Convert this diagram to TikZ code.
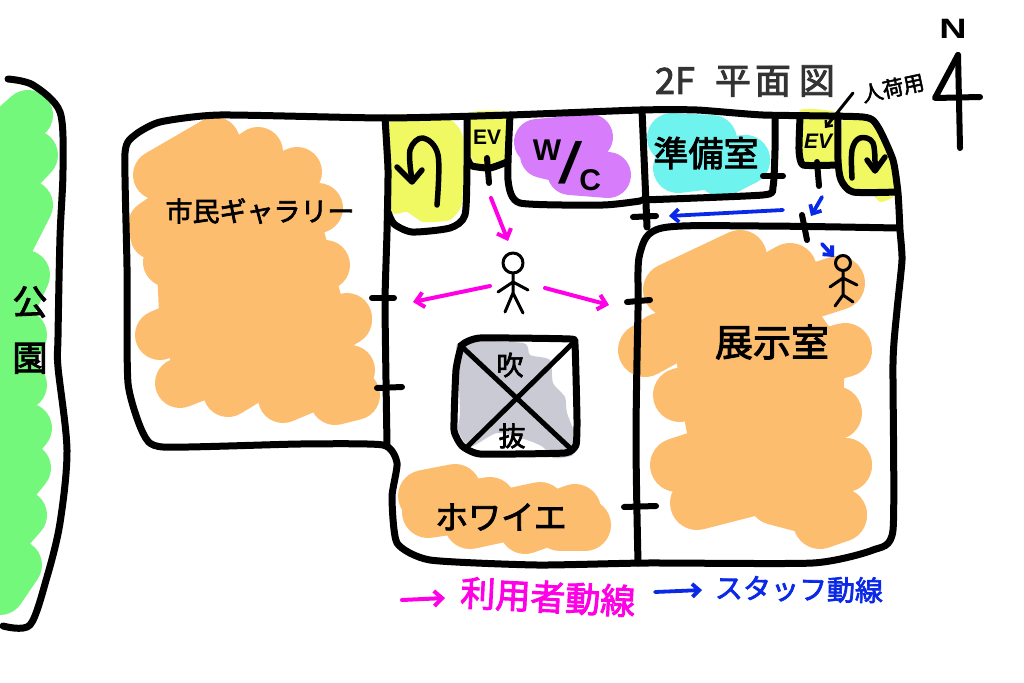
\documentclass[tikz,border=0pt]{standalone}
\usepackage{fontspec}
\usetikzlibrary{arrows.meta}
\setmainfont{Liberation Sans}
\newfontfamily\cjk[FakeBold=2.5]{Noto Sans CJK JP}
\definecolor{orangeP}{HTML}{FDBD6E}
\definecolor{yellowP}{HTML}{F1F962}
\definecolor{purpleP}{HTML}{D77DFB}
\definecolor{cyanP}{HTML}{6EF3EE}
\definecolor{greyP}{HTML}{CACAD4}
\definecolor{greenP}{HTML}{74F87C}
\definecolor{pinkL}{HTML}{FF00E6}
\definecolor{blueL}{HTML}{0A28E8}
\newcommand\fs[1]{\fontsize{#1}{#1}\selectfont}
% brush: colour, stroke width, core polygon, list of strokes
\newcommand\brush[4]{%
  \fill[#1] #3 -- cycle;%
  \foreach \xa/\ya/\xb/\yb in {#4}{\draw[#1,line width=#2pt,line cap=round] (\xa,\ya) -- (\xb,\yb);}}
\tikzset{
  wall/.style={draw=black,line width=7pt,line cap=round,line join=round},
  tick/.style={draw=black,line width=6pt,line cap=round},
  pen/.style={draw=black,line width=5pt,line cap=round,line join=round},
  thinpen/.style={draw=black,line width=3pt,line cap=round,line join=round},
  userflow/.style={draw=pinkL,line width=4pt,line cap=round,-{Straight Barb[length=8pt,width=15pt,line width=4pt]}},
  staffflow/.style={draw=blueL,line width=3.8pt,line cap=round,-{Straight Barb[length=7pt,width=13pt,line width=3.8pt]}},
  lab/.style={inner sep=0pt,font=\cjk},
}
\begin{document}
\begin{tikzpicture}[x=1pt,y=-1pt]
\useasboundingbox (0,0) rectangle (1024,682);
\fill[white] (0,0) rectangle (1024,682);

% --- paint ---
\brush{greenP}{50}{(0,115) -- (28,115) -- (33,155) -- (25,275) -- (22,385) -- (26,468) -- (18,565) -- (0,600)}{0/140/28/115,0/190/33/155,0/260/28/205,0/330/25/275,0/370/22/335,0/400/22/385,0/460/27/428,0/500/26/468,0/540/22/515,0/590/17/565}
\brush{orangeP}{50}{(158,175) -- (215,142) -- (318,208) -- (347,318) -- (355,395) -- (180,383) -- (160,335) -- (155,225)}{158/175/215/142,153/225/258/152,155/235/297/172,168/262/318/208,160/335/325/265,180/383/347/318,228/392/347/320,283/398/350/370,335/400/355/395}
\fill[yellowP] plot[smooth cycle,tension=.3] coordinates {(384,118)(447,118)(463,137)(462,203)(450,220)(423,222)(407,212)(390,210)};
\fill[yellowP] plot[smooth cycle,tension=.25] coordinates {(470,113)(508,113)(508,160)(480,166)(470,155)};
\brush{purpleP}{46}{(537,142) -- (590,137) -- (608,175) -- (570,173)}{537/142/590/137,543/155/585/165,570/172/608/175}
\brush{cyanP}{50}{(672,138) -- (712,140) -- (745,160) -- (680,168)}{672/138/712/140,678/168/745/160,722/172/745/160}
\fill[yellowP] plot[smooth cycle,tension=.2] coordinates {(800,110)(837,113)(837,163)(800,163)};
\fill[yellowP] plot[smooth cycle,tension=.35] coordinates {(843,120)(870,123)(893,157)(900,180)(893,197)(880,202)(870,192)(847,192)(840,170)};
\brush{orangeP}{54}{(670,290) -- (790,270) -- (845,350) -- (840,515) -- (700,505) -- (680,395)}{670/290/740/257,645/350/790/270,660/340/838/283,680/395/845/350,677/465/835/413,697/503/845/465,722/492/845/465,775/498/840/515,820/522/840/515}
\fill[greyP] plot[smooth cycle,tension=.4] coordinates {(460,342)(523,343)(530,355)(550,360)(553,383)(565,397)(567,413)(577,440)(573,455)(553,458)(543,447)(527,440)(497,433)(470,447)(458,430)(460,413)(458,363)};
\brush{orangeP}{52}{(424,496) -- (455,490) -- (540,508) -- (585,525) -- (470,523)}{424/496/455/490,428/512/490/503,470/523/540/508,525/528/575/510,560/525/585/525}

% --- park boundary ---
\draw[wall] plot[smooth,tension=.5] coordinates {(8,79)(33,85)(60,112)(63,170)(60,237)(58,337)(58,367)(67,450)(60,523)(47,577)(30,625)(3,626)};

% --- outer wall ---
\draw[wall] plot[smooth cycle,tension=.35] coordinates {(125,153)(135,135)(160,122)(220,115)(385,118)(510,115)(640,110)(697,110)(763,115)(863,117)(878,127)(893,160)(898,193)(900,230)(902,260)(897,310)(893,363)(893,530)(873,550)(813,563)(647,563)(537,565)(430,560)(397,543)(392,497)(397,463)(383,445)(300,444)(163,447)(143,433)(128,383)(127,267)};
% --- inner walls ---
\draw[wall] plot[smooth,tension=.3] coordinates {(385,118)(388,170)(387,232)(385,300)(386,380)(387,445)};
\draw[wall] plot[smooth,tension=.4] coordinates {(388,212)(394,224)(412,232)(450,228)(465,215)(467,165)(467,118)};
\draw[wall] plot[smooth,tension=.35] coordinates {(468,160)(472,166)(490,168)(507,162)};
\draw[wall] plot[smooth,tension=.35] coordinates {(510,115)(508,180)(520,203)(603,205)(640,201)};
\draw[wall] (642,110) -- (647,227);
\draw[wall] plot[smooth,tension=.5] coordinates {(897,228)(760,226)(662,228)(640,253)(638,310)(636,440)(638,563)};
\draw[wall] plot[smooth,tension=.35] coordinates {(642,200)(763,195)(773,187)(775,150)(775,117)};
\draw[wall] plot[smooth,tension=.3] coordinates {(800,117)(799,150)(803,165)(837,165)};
\draw[wall] plot[smooth,tension=.4] coordinates {(838,115)(838,160)(841,180)(853,192)(897,192)};

% --- door ticks ---
\draw[tick] (372,298) -- (394,298);
\draw[tick] (377,388) -- (402,387);
\draw[tick] (487,158) -- (489,183);
\draw[tick] (633,217) -- (656,216);
\draw[tick] (763,176) -- (783,176);
\draw[tick] (817,162) -- (819,186);
\draw[tick] (802,215) -- (807,240);
\draw[tick] (627,302) -- (650,300);
\draw[tick] (624,507) -- (656,506);

% --- atrium ---
\draw[wall] plot[smooth cycle,tension=.25] coordinates {(462,345)(480,338)(570,339)(575,345)(577,420)(576,445)(565,453)(480,454)(462,446)(454,430)(456,370)};
\draw[pen] (460,345) -- (571,449);
\draw[pen] (573,343) -- (465,449);

% --- stairs arrows ---
\draw[pen,line width=5.5pt] plot[smooth,tension=.6] coordinates {(437,205)(438,155)(423,138)(410,150)(412,180)};
\draw[pen,line width=5.5pt] (397,167) -- (412,182) -- (422,170);
\draw[pen,line width=5.5pt] plot[smooth,tension=.6] coordinates {(852,178)(852,150)(860,138)(873,143)(875,170)};
\draw[pen,line width=5.5pt] (867,160) -- (875,171) -- (885,157);

% --- persons ---
\draw[thinpen] (513,263) circle (10);
\draw[thinpen] (513,273) -- (513,293) (498,292) -- (513,282) -- (528,290) (505,312) -- (513,293) -- (523,313);
\draw[thinpen] (843,263) circle (7.5);
\draw[thinpen] (843,271) -- (843,295) (830,287) -- (843,278) -- (857,285) (835,306) -- (843,295) -- (853,302);

% --- flows ---
\draw[userflow] (491,198) -- (508,241);
\draw[userflow] (490,286) -- (413,302);
\draw[userflow] (545,288) -- (609,305);
\draw[userflow] (402,600) -- (445,598);
\draw[staffflow] (783,210) -- (669,216);
\draw[staffflow] (822,197) -- (811,216);
\draw[staffflow] (822,244) -- (834,257);
\draw[staffflow] (655,592) -- (702,590);

% --- pointer and north mark ---
\draw[thinpen,-{Straight Barb[length=5pt,width=9pt,line width=2.5pt]}] (853,93) -- (825,128);
\draw[wall,line width=6pt] (958,55) -- (935,98) -- (980,97);
\draw[wall,line width=6pt] (958,55) -- (960,148);
\node[inner sep=0pt,font=\bfseries\fs{28},xscale=1.35] (north) at (953,29) {N};

% --- labels ---
\node[lab,font=\cjk\fs{36},text=black!80] (title) at (745,81) {2F\kern20pt 平\kern4pt 面\kern8pt 図};
\node[lab,font=\cjk\fs{21},rotate=12] (goods) at (893,88) {人荷用};
\node[lab,font=\cjk\fs{27}] (gallery) at (260,211) {市民ギャラリー};
\node[lab,font=\cjk\fs{38}] (exhibit) at (772,342) {展示室};
\node[lab,font=\cjk\fs{35}] (prep) at (706,153) {準備室};
\node[lab,font=\cjk\fs{33}] (foyer) at (501,517) {ホワイエ};
\node[lab,font=\cjk\fs{35},align=center] (park) at (30,330) {公\\[21pt]園};
\node[lab,font=\bfseries\fs{30}] (wc) at (567,165) {\raisebox{23pt}{W}\kern-3pt\scalebox{1.5}[1]{\fs{58}\fontseries{m}\selectfont/}\kern-3pt\raisebox{-7pt}{C}};
\node[lab,font=\bfseries\fs{21}] (ev1) at (487,137) {EV};
\node[lab,font=\bfseries\itshape\fs{21}] (ev2) at (818,141) {EV};
\node[lab,font=\cjk\fs{27}] (vbuki) at (510,365) {吹};
\node[lab,font=\cjk\fs{27}] (vnuki) at (512,436) {抜};
\node[lab,font=\cjk\fs{35},text=pinkL,rotate=-3] (userleg) at (548,597) {利用者動線};
\node[lab,font=\cjk\fs{28},text=blueL,rotate=-1] (staffleg) at (799,589) {スタッフ動線};
\end{tikzpicture}
\end{document}
